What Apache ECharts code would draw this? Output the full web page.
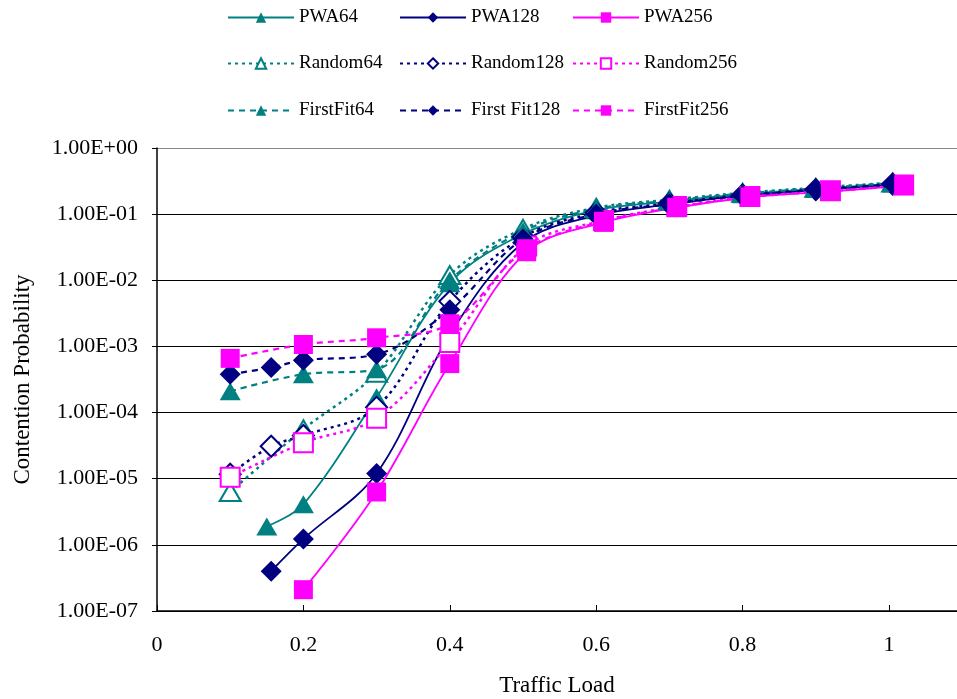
<!DOCTYPE html>
<html>
<head>
<meta charset="utf-8">
<script src="https://cdn.jsdelivr.net/npm/echarts@6/dist/echarts.min.js"></script>
<style>
html,body{margin:0;padding:0;background:#fff;}
#chart{width:957px;height:699px;}
</style>
</head>
<body>
<div id="chart"></div>
<script>
// ---- data ----
const seriesNames = ['PWA64','PWA128','PWA256','Random64','Random128','Random256','FirstFit64','First Fit128','FirstFit256'];

const pwa64X = [0.15, 0.2, 0.3, 0.4, 0.5, 0.6, 0.7, 0.8, 0.9, 1.005];
const pwa64Y = [1.9e-6, 4.1e-6, 1.7e-4, 9.0e-3, 0.05, 0.115, 0.155, 0.2, 0.24, 0.29];
const pwa128X = [0.156, 0.2, 0.3, 0.4, 0.5, 0.6, 0.7, 0.8, 0.9, 1.005];
const pwa128Y = [4.0e-7, 1.23e-6, 1.2e-5, 1.5e-3, 0.037, 0.095, 0.14, 0.19, 0.23, 0.28];
const pwa256X = [0.2, 0.3, 0.4, 0.505, 0.61, 0.71, 0.81, 0.92, 1.02];
const pwa256Y = [2.1e-7, 6.3e-6, 5.5e-4, 0.027, 0.075, 0.125, 0.18, 0.22, 0.27];

const rnd64X = [0.1, 0.2, 0.3, 0.4, 0.5, 0.6, 0.7, 0.8, 0.9, 1.005];
const rnd64Y = [6.3e-6, 5.6e-5, 4.0e-4, 1.2e-2, 0.06, 0.125, 0.165, 0.21, 0.25, 0.3];
const rnd128X = [0.1, 0.156, 0.2, 0.3, 0.4, 0.5, 0.6, 0.7, 0.8, 0.9, 1.005];
const rnd128Y = [1.17e-5, 3.1e-5, 4.5e-5, 1.2e-4, 4.8e-3, 0.045, 0.105, 0.145, 0.195, 0.235, 0.285];
const rnd256X = [0.1, 0.2, 0.3, 0.4, 0.505, 0.61, 0.71, 0.81, 0.92, 1.02];
const rnd256Y = [1.05e-5, 3.5e-5, 8.2e-5, 1.15e-3, 0.033, 0.08, 0.13, 0.185, 0.225, 0.275];

const ff64X = [0.1, 0.2, 0.3, 0.4, 0.5, 0.6, 0.7, 0.8, 0.9, 1.005];
const ff64Y = [2.1e-4, 3.8e-4, 4.5e-4, 1.0e-2, 0.055, 0.12, 0.16, 0.205, 0.245, 0.295];
const ff128X = [0.1, 0.156, 0.2, 0.3, 0.4, 0.5, 0.6, 0.7, 0.8, 0.9, 1.005];
const ff128Y = [3.8e-4, 4.8e-4, 6.2e-4, 7.6e-4, 3.6e-3, 0.042, 0.1, 0.142, 0.19, 0.232, 0.282];
const ff256X = [0.1, 0.2, 0.3, 0.4, 0.505, 0.61, 0.71, 0.81, 0.92, 1.02];
const ff256Y = [6.6e-4, 1.07e-3, 1.35e-3, 2.2e-3, 0.03, 0.078, 0.127, 0.182, 0.222, 0.272];

const xTickLabels = ['0', '0.2', '0.4', '0.6', '0.8', '1'];
const yTickLabels = ['1.00E-07','1.00E-06','1.00E-05','1.00E-04','1.00E-03','1.00E-02','1.00E-01','1.00E+00'];

// ---- styling ----
const TEAL = '#008080', NAVY = '#000080', MAG = '#FF00FF';
const FONT = 'Liberation Serif';

function pairs(xs, ys) { return xs.map((x, i) => [x, ys[i]]); }

function mk(name, xs, ys, color, symbol, size, hollow, lineType, lineWidth) {
  return {
    name: name,
    type: 'line',
    smooth: 0.35,
    data: pairs(xs, ys),
    symbol: symbol,
    symbolSize: size,
    lineStyle: { color: color, width: lineWidth, type: lineType },
    itemStyle: hollow
      ? { color: '#fff', borderColor: color, borderWidth: 2 }
      : { color: color, borderColor: color, borderWidth: 0 },
    emphasis: { disabled: true },
    animation: false
  };
}

const TRI = [21, 18], DIA = 21, SQ = 19;
const series = [
  mk('PWA64', pwa64X, pwa64Y, TEAL, 'triangle', TRI, false, 'solid', 1.8),
  mk('PWA128', pwa128X, pwa128Y, NAVY, 'diamond', DIA, false, 'solid', 1.8),
  mk('PWA256', pwa256X, pwa256Y, MAG, 'rect', SQ, false, 'solid', 1.8),
  mk('Random64', rnd64X, rnd64Y, TEAL, 'triangle', TRI, true, [3, 4], 2.5),
  mk('Random128', rnd128X, rnd128Y, NAVY, 'diamond', DIA, true, [3, 4], 2.5),
  mk('Random256', rnd256X, rnd256Y, MAG, 'rect', SQ, true, [3, 4], 2.5),
  mk('FirstFit64', ff64X, ff64Y, TEAL, 'triangle', TRI, false, [6, 5], 2.2),
  mk('First Fit128', ff128X, ff128Y, NAVY, 'diamond', DIA, false, [6, 5], 2.2),
  mk('FirstFit256', ff256X, ff256Y, MAG, 'rect', SQ, false, [6, 5], 2.2)
];

const legendCols = [227, 399, 572];
const legendRows = [8, 54, 101];
const legends = seriesNames.map((n, i) => ({
  data: [n],
  left: legendCols[i % 3],
  top: legendRows[Math.floor(i / 3)],
  padding: 0,
  itemWidth: 66,
  itemHeight: 13,
  itemGap: 0,
  selectedMode: false,
  textStyle: { fontFamily: FONT, fontSize: 19, color: '#000' }
}));

const X_MAX = 800 / 732;

const chart = echarts.init(document.getElementById('chart'), null, { renderer: 'canvas' });
chart.setOption({
  backgroundColor: '#fff',
  animation: false,
  legend: legends,
  grid: { left: 157, top: 148, right: 0, height: 463, containLabel: false, outerBoundsMode: 'none' },
  xAxis: {
    type: 'value',
    min: 0, max: X_MAX, interval: 0.2,
    name: 'Traffic Load',
    nameLocation: 'middle',
    nameGap: 63,
    nameTextStyle: { fontFamily: FONT, fontSize: 23, color: '#000' },
    axisLine: { lineStyle: { color: '#000', width: 1.5 } },
    axisTick: { inside: true, length: 6, lineStyle: { color: '#000' } },
    axisLabel: {
      fontFamily: FONT, fontSize: 22, color: '#000', margin: 23,
      showMaxLabel: false,
      formatter: function (v) {
        const k = Math.round(v / 0.2);
        return Math.abs(v - k * 0.2) < 1e-6 && k < xTickLabels.length ? xTickLabels[k] : '';
      }
    },
    splitLine: { show: false }
  },
  yAxis: {
    type: 'log',
    logBase: 10,
    min: 1e-7, max: 1, interval: 1,
    name: 'Contention Probability',
    nameLocation: 'middle',
    nameGap: 123,
    nameRotate: 90,
    nameTextStyle: { fontFamily: FONT, fontSize: 23, color: '#000' },
    axisLine: { show: true, lineStyle: { color: '#000', width: 1.5 } },
    axisTick: { show: true, inside: false, length: 5, lineStyle: { color: '#000' } },
    axisLabel: {
      fontFamily: FONT, fontSize: 22, color: '#000', margin: 19,
      formatter: function (v) { return yTickLabels[Math.round(Math.log10(v)) + 7]; }
    },
    splitLine: { show: true, lineStyle: { color: ['#000','#000','#000','#000','#000','#000','#000','#888'], width: 1 } }
  },
  series: series
});
</script>
</body>
</html>
